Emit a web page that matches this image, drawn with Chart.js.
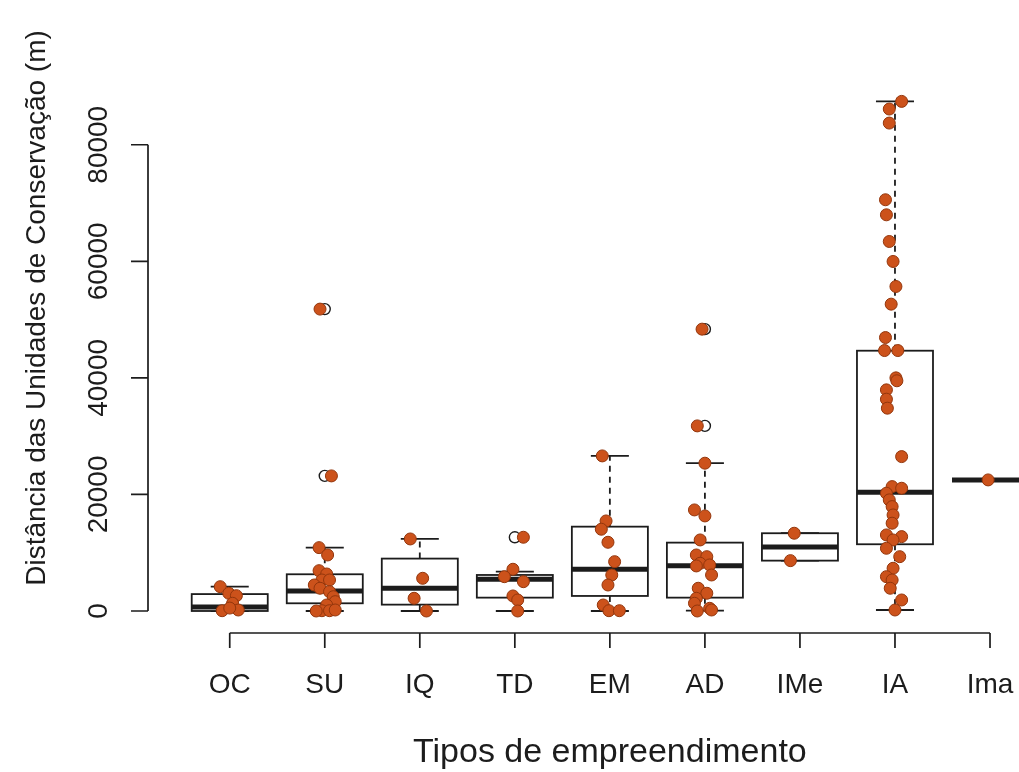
<!DOCTYPE html>
<html>
<head>
<meta charset="utf-8">
<script src="https://cdn.jsdelivr.net/npm/chart.js@4"></script>
<style>
  html, body { margin: 0; padding: 0; background: #ffffff; }
  #c { display: block; }
</style>
</head>
<body>
<canvas id="c" width="1019" height="772"></canvas>
<script>
// ---- data ----
const categories = ['OC', 'SU', 'IQ', 'TD', 'EM', 'AD', 'IMe', 'IA', 'Ima'];
const yTicks = [0, 20000, 40000, 60000, 80000];
const xTitle = 'Tipos de empreendimento';
const yTitle = 'Distância das Unidades de Conservação (m)';

// box statistics per category
const whiskerLow  = [0,    0,     0,     0,     0,     50,    8640,  170,   22490];
const lowerHinge  = [0,    1320,  1090,  2290,  2580,  2290,  8640,  11450, 22490];
const medians     = [700,  3430,  3900,  5440,  7160,  7780,  10990, 20380, 22490];
const upperHinge  = [2900, 6300,  8990,  6180,  14470, 11730, 13340, 44660, 22490];
const whiskerHigh = [4170, 10870, 12360, 6750,  26610, 25360, 13340, 87440, 22490];
const outliers    = [[], [51800, 23180], [], [12650], [], [48360, 31760], [], [], []];

// individual observations (jittered strip chart)
const pointValues = [
  [4170, 3040, 2630, 1320, 50, 170, 500],
  [10870, 9610, 6920, 6350, 5320, 5320, 4460, 3900, 3310, 2450, 1600, 1030, 50, 50, 170, 0, 23180, 51800],
  [12360, 5610, 2180, 0],
  [12650, 7160, 5890, 5030, 2580, 1890, 0],
  [26610, 15450, 14030, 11790, 8460, 6180, 4460, 1030, 50, 50],
  [25360, 17340, 16310, 12190, 9610, 9320, 8190, 7900, 7730, 6180, 3900, 3040, 2180, 1320, 460, 0, 170, 48360, 31760],
  [13340, 8640],
  [87440, 86130, 83720, 70560, 67980, 63400, 59970, 55680, 52650, 46920, 44690, 44690, 40000, 39500, 37940, 36340, 34800,
   26490, 21340, 21060, 20210, 19060, 17910, 16480, 15060, 13050, 12760, 12190, 10760, 9320, 7330, 5890, 5320, 3900, 1890, 170],
  [22490]
];
const pointJitter = [
  [-0.10, -0.01, 0.07, 0.03, -0.08, 0.09, 0.00],
  [-0.06, 0.03, -0.06, 0.02, -0.03, 0.05, -0.11, -0.05, 0.05, 0.09, 0.11, 0.02, -0.03, 0.05, 0.11, -0.09, 0.07, -0.05],
  [-0.10, 0.03, -0.06, 0.07],
  [0.09, -0.02, -0.11, 0.09, -0.02, 0.03, 0.03],
  [-0.08, -0.04, -0.09, -0.02, 0.05, 0.02, -0.02, -0.07, -0.01, 0.10],
  [0.00, -0.11, 0.00, -0.05, -0.09, 0.02, -0.05, 0.05, -0.09, 0.07, -0.07, 0.02, -0.09, -0.11, 0.05, -0.08, 0.07, -0.03, -0.08],
  [-0.06, -0.10],
  [0.07, -0.06, -0.06, -0.10, -0.09, -0.06, -0.02, 0.01, -0.04, -0.10, -0.11, 0.03, 0.01, 0.02, -0.09, -0.09, -0.08,
   0.07, -0.03, 0.07, -0.09, -0.06, -0.03, -0.02, -0.03, -0.09, 0.07, -0.02, -0.09, 0.05, -0.02, -0.09, -0.03, -0.05, 0.07, 0.00],
  [-0.02]
];

// ---- build the scatter table from the arrays ----
const scatterData = [];
pointValues.forEach((vals, i) => {
  vals.forEach((v, k) => scatterData.push({ x: i + 1 + pointJitter[i][k], y: v }));
});

const FONT = '"Liberation Sans", Arial, Helvetica, sans-serif';
const INK = '#1c1c1c';

const boxPlugin = {
  id: 'boxplotR',
  beforeDatasetsDraw(chart) {
    const ctx = chart.ctx;
    const xs = chart.scales.x, ys = chart.scales.y;
    const X = v => xs.getPixelForValue(v);
    const Y = v => ys.getPixelForValue(v);
    ctx.save();
    categories.forEach((c, idx) => {
      const i = idx + 1;
      const left = X(i - 0.4), right = X(i + 0.4);
      const capL = X(i - 0.2), capR = X(i + 0.2);
      const cx = X(i);
      ctx.strokeStyle = INK;
      // whiskers (dashed)
      ctx.lineWidth = 1.8;
      ctx.setLineDash([6, 5]);
      ctx.beginPath();
      ctx.moveTo(cx, Y(upperHinge[idx])); ctx.lineTo(cx, Y(whiskerHigh[idx]));
      ctx.moveTo(cx, Y(lowerHinge[idx])); ctx.lineTo(cx, Y(whiskerLow[idx]));
      ctx.stroke();
      ctx.setLineDash([]);
      // staples
      ctx.beginPath();
      ctx.moveTo(capL, Y(whiskerHigh[idx])); ctx.lineTo(capR, Y(whiskerHigh[idx]));
      ctx.moveTo(capL, Y(whiskerLow[idx])); ctx.lineTo(capR, Y(whiskerLow[idx]));
      ctx.stroke();
      // box
      const top = Y(upperHinge[idx]), bot = Y(lowerHinge[idx]);
      ctx.fillStyle = '#ffffff';
      ctx.fillRect(left, top, right - left, bot - top);
      ctx.strokeRect(left, top, right - left, bot - top);
      // median
      ctx.lineWidth = 5;
      ctx.beginPath();
      ctx.moveTo(left, Y(medians[idx])); ctx.lineTo(right, Y(medians[idx]));
      ctx.stroke();
      // outliers (open circles)
      ctx.lineWidth = 1.4;
      outliers[idx].forEach(v => {
        ctx.beginPath();
        ctx.arc(cx, Y(v), 5.5, 0, Math.PI * 2);
        ctx.stroke();
      });
    });
    ctx.restore();
  },
  afterDraw(chart) {
    const ctx = chart.ctx;
    const xs = chart.scales.x, ys = chart.scales.y;
    const X = v => xs.getPixelForValue(v);
    const Y = v => ys.getPixelForValue(v);
    const axisX = chart.chartArea.left;
    const axisY = chart.chartArea.bottom;
    ctx.save();
    ctx.strokeStyle = INK;
    ctx.fillStyle = INK;
    ctx.lineWidth = 1.7;
    // y axis
    ctx.beginPath();
    ctx.moveTo(axisX, Y(yTicks[0])); ctx.lineTo(axisX, Y(yTicks[yTicks.length - 1]));
    yTicks.forEach(t => { ctx.moveTo(axisX, Y(t)); ctx.lineTo(axisX - 17, Y(t)); });
    ctx.stroke();
    ctx.font = '28px ' + FONT;
    ctx.textAlign = 'center';
    ctx.textBaseline = 'alphabetic';
    yTicks.forEach(t => {
      ctx.save();
      ctx.translate(axisX - 41, Y(t));
      ctx.rotate(-Math.PI / 2);
      ctx.fillText(String(t), 0, 0);
      ctx.restore();
    });
    // x axis
    ctx.beginPath();
    ctx.moveTo(X(1), axisY); ctx.lineTo(X(categories.length), axisY);
    categories.forEach((c, idx) => { ctx.moveTo(X(idx + 1), axisY); ctx.lineTo(X(idx + 1), axisY + 15); });
    ctx.stroke();
    categories.forEach((c, idx) => ctx.fillText(c, X(idx + 1), axisY + 60));
    // titles
    ctx.font = '34px ' + FONT;
    ctx.fillText(xTitle, (chart.chartArea.left + X(9.86)) / 2, axisY + 129);
    ctx.save();
    ctx.font = '28px ' + FONT;
    ctx.translate(45, 308);
    ctx.rotate(-Math.PI / 2);
    ctx.fillText(yTitle, 0, 0);
    ctx.restore();
    ctx.restore();
  }
};

new Chart(document.getElementById('c'), {
  type: 'scatter',
  data: {
    datasets: [{
      data: scatterData,
      backgroundColor: '#CC521B',
      borderColor: '#93360C',
      borderWidth: 1,
      pointRadius: 6,
      pointHoverRadius: 6,
      clip: false
    }]
  },
  options: {
    responsive: false,
    devicePixelRatio: 1,
    animation: false,
    layout: { autoPadding: false, padding: { left: 148, right: 0, top: 81, bottom: 139 } },
    plugins: { legend: { display: false }, tooltip: { enabled: false } },
    scales: {
      x: { type: 'linear', min: 0.14, max: 9.305, display: false },
      y: { type: 'linear', min: -3777, max: 90938, display: false }
    }
  },
  plugins: [boxPlugin]
});
</script>
</body>
</html>
